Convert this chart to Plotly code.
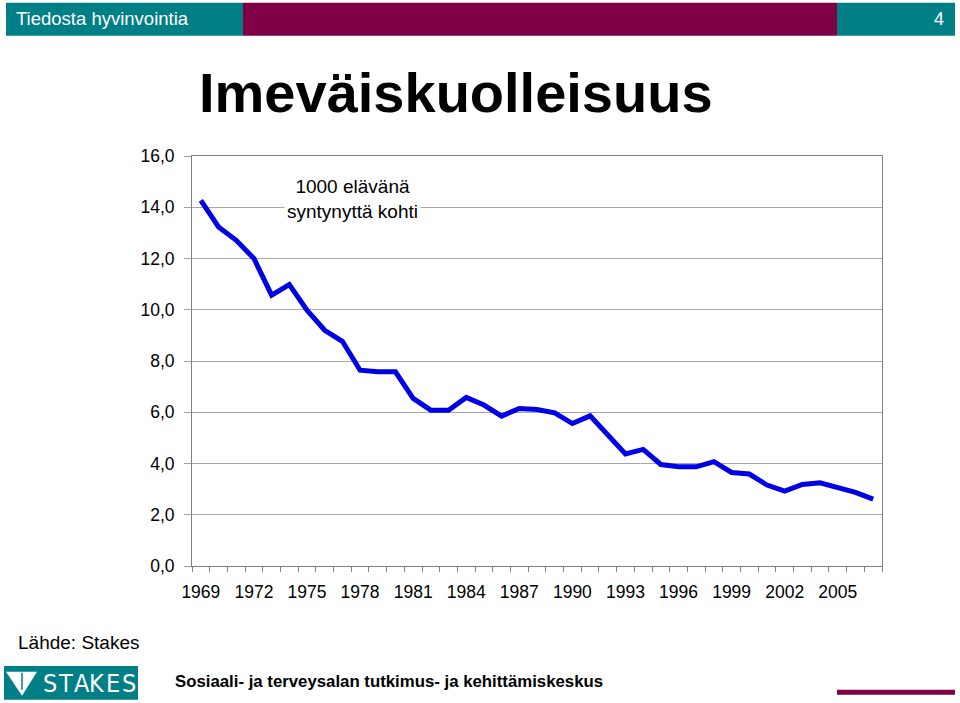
import plotly.graph_objects as go

# ---------------- data ----------------
years = list(range(1969, 2008))
rates = [14.27, 13.23, 12.71, 12.0, 10.57, 10.98, 9.98, 9.2, 8.77, 7.64,
         7.58, 7.58, 6.54, 6.08, 6.08, 6.58, 6.28, 5.85, 6.15, 6.11,
         5.98, 5.56, 5.86, 5.11, 4.37, 4.55, 3.96, 3.87, 3.87, 4.07,
         3.65, 3.59, 3.16, 2.92, 3.18, 3.25, 3.07, 2.87, 2.61]
label_years = years[::3]
y_ticks = [0, 2, 4, 6, 8, 10, 12, 14, 16]

title = "Imeväiskuolleisuus"
unit_note = "1000 elävänä<br>syntynyttä kohti"
source = "Lähde: Stakes"
header_left = "Tiedosta hyvinvointia"
header_right = "4"
footer = "Sosiaali- ja terveysalan tutkimus- ja kehittämiskeskus"
logo_text = "STAKES"

# ---------------- layout geometry ----------------
W, H = 960, 703
L, R, T, B = 192, 882, 155.5, 566


def fx(x):
    return (x - L) / (R - L)


def fy(y):
    return (B - y) / (B - T)


TEAL = "#007f86"
MAGENTA = "#800045"
FONT = "Liberation Sans, Arial, sans-serif"
CONDENSED = "DejaVu Sans Condensed, Liberation Sans Narrow, Liberation Sans, sans-serif"

fig = go.Figure()
fig.add_trace(go.Scatter(x=years, y=rates, mode="lines",
                         line=dict(color="#0000e6", width=5),
                         hoverinfo="x+y", showlegend=False))
# invisible copy bound to the label axis so that it gets drawn
fig.add_trace(go.Scatter(x=years, y=rates, xaxis="x2", yaxis="y", mode="lines",
                         line=dict(color="rgba(0,0,0,0)", width=0),
                         hoverinfo="skip", showlegend=False))

boundaries = [years[0] - 0.5 + i for i in range(len(years) + 1)]
xr = [years[0] - 0.5, years[-1] + 0.5]

shapes = [
    dict(type="rect", xref="paper", yref="paper", x0=fx(6), x1=fx(243), y0=fy(35), y1=fy(2),
         fillcolor=TEAL, line=dict(width=0), layer="above"),
    dict(type="rect", xref="paper", yref="paper", x0=fx(243), x1=fx(837), y0=fy(35), y1=fy(2),
         fillcolor=MAGENTA, line=dict(width=0), layer="above"),
    dict(type="rect", xref="paper", yref="paper", x0=fx(837), x1=fx(955), y0=fy(35), y1=fy(2),
         fillcolor=TEAL, line=dict(width=0), layer="above"),
    dict(type="rect", xref="paper", yref="paper", x0=fx(837), x1=fx(955), y0=fy(695), y1=fy(690),
         fillcolor=MAGENTA, line=dict(width=0), layer="above"),
    dict(type="rect", xref="paper", yref="paper", x0=fx(4), x1=fx(138), y0=fy(700), y1=fy(666),
         fillcolor=TEAL, line=dict(width=0), layer="above"),
    dict(type="path", xref="paper", yref="paper",
         path=f"M {fx(6)} {fy(672)} L {fx(37)} {fy(672)} L {fx(22)} {fy(696)} Z",
         fillcolor="white", line=dict(width=0), layer="above"),
    dict(type="line", xref="paper", yref="paper", x0=fx(22), x1=fx(22), y0=fy(673), y1=fy(690),
         line=dict(color=TEAL, width=1.5), layer="above"),
]

annotations = [
    dict(text=header_left, xref="paper", yref="paper", x=fx(14), y=fy(18),
         xanchor="left", yanchor="middle", showarrow=False,
         font=dict(family=FONT, size=18.5, color="white")),
    dict(text=header_right, xref="paper", yref="paper", x=fx(946), y=fy(18),
         xanchor="right", yanchor="middle", showarrow=False,
         font=dict(family=FONT, size=18, color="white")),
    dict(text="<b>" + title + "</b>", xref="paper", yref="paper", x=fx(456), y=fy(92),
         xanchor="center", yanchor="middle", showarrow=False,
         font=dict(family=FONT, size=56, color="black")),
    dict(text=unit_note, xref="paper", yref="paper", x=fx(352), y=fy(199),
         xanchor="center", yanchor="middle", showarrow=False, bgcolor="white",
         borderpad=2, font=dict(family=FONT, size=19, color="black")),
    dict(text=source, xref="paper", yref="paper", x=fx(16), y=fy(643),
         xanchor="left", yanchor="middle", showarrow=False,
         font=dict(family=FONT, size=19, color="black")),
    dict(text="<b>" + footer + "</b>", xref="paper", yref="paper", x=fx(173), y=fy(682),
         xanchor="left", yanchor="middle", showarrow=False,
         font=dict(family=FONT, size=16.8, color="black")),
]

# logo letters, evenly spaced like the original condensed logotype
for i, ch in enumerate(logo_text):
    annotations.append(dict(text=ch, xref="paper", yref="paper", x=fx(50 + i * 15.8), y=fy(684),
                            xanchor="center", yanchor="middle", showarrow=False,
                            font=dict(family=CONDENSED, size=25, color="white")))

fig.update_layout(
    width=W, height=H,
    margin=dict(l=L, r=W - R, t=T, b=H - B, pad=0),
    paper_bgcolor="white", plot_bgcolor="white",
    separators=",.",
    showlegend=False,
    shapes=shapes,
    annotations=annotations,
    xaxis=dict(range=xr, tickmode="array", tickvals=boundaries,
               ticktext=["" for _ in boundaries], ticks="outside", ticklen=5,
               tickcolor="#808080", tickwidth=1, showgrid=False, zeroline=False,
               showline=True, linecolor="#808080", linewidth=1, mirror=True),
    xaxis2=dict(range=xr, overlaying="x", anchor="y", side="bottom",
                tickmode="array", tickvals=label_years,
                ticktext=[str(y) for y in label_years], ticks="", showgrid=False,
                zeroline=False, showline=False, ticklabelstandoff=13,
                tickfont=dict(family=FONT, size=17.5, color="black")),
    yaxis=dict(range=[0, 16], tickmode="array", tickvals=y_ticks, tickformat=".1f",
               ticks="outside", ticklen=7, tickcolor="#a0a0a0", tickwidth=1,
               showgrid=True, gridcolor="#a8a8a8", gridwidth=1, zeroline=False,
               showline=True, linecolor="#808080", linewidth=1, mirror=True,
               ticklabelstandoff=6,
               tickfont=dict(family=FONT, size=17.5, color="black")),
)

fig.write_html("out.html")
